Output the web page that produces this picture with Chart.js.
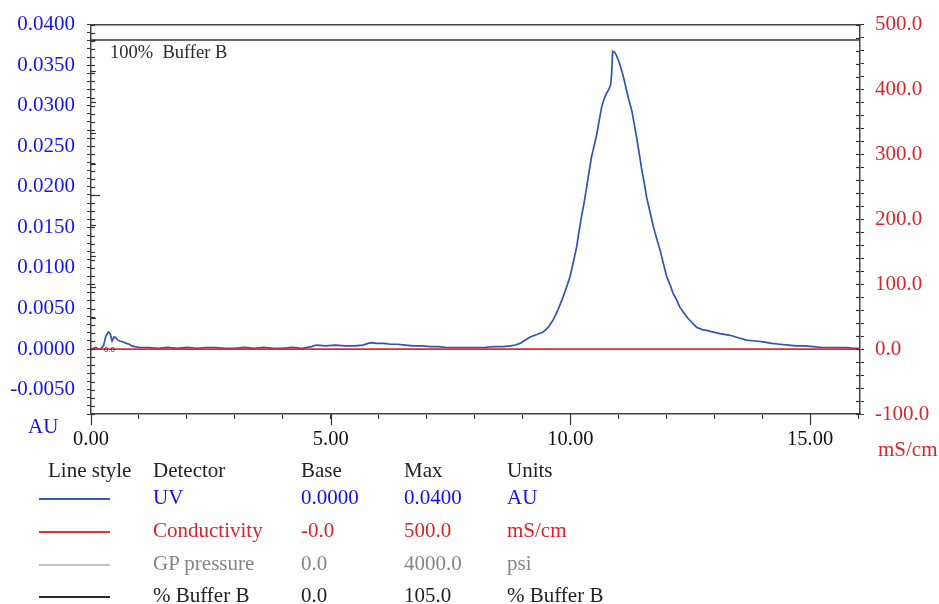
<!DOCTYPE html>
<html>
<head>
<meta charset="utf-8">
<script src="https://cdn.jsdelivr.net/npm/chart.js@4.4.1/dist/chart.umd.min.js"></script>
<style>
  html, body { margin: 0; padding: 0; background: #fff; }
  body { width: 939px; height: 604px; position: relative; overflow: hidden;
         font-family: "Liberation Serif", "Times New Roman", serif; }
  #wrap { position: absolute; left: 0; top: 0; width: 939px; height: 460px; }
  .lbl { position: absolute; white-space: nowrap; line-height: 1; }
  .key { position: absolute; height: 0; border-top: 2px solid; width: 71px; left: 39px; }
</style>
</head>
<body>
<div id="wrap"><canvas id="chroma"></canvas></div>
<div class="lbl" style="left:28px; top:416px; font-size:21px; color:#1414f0;">AU</div>
<div class="lbl" style="left:878px; top:439px; font-size:21px; color:#d8262c;">mS/cm</div>
<div id="legend"></div>

<script>
// UV trace (ml, AU)
const uvTime = [
  0.00, 0.05, 0.10, 0.15, 0.20, 0.26, 0.31, 0.36, 0.40, 0.44, 0.48, 0.52, 0.56, 0.60,
  0.66, 0.74, 0.80, 0.85, 0.92, 1.02, 1.20, 1.40, 1.60, 1.80, 2.00, 2.20, 2.40, 2.60,
  2.80, 3.00, 3.20, 3.40, 3.60, 3.80, 4.00, 4.20, 4.40, 4.60, 4.70, 4.90, 5.10, 5.30,
  5.50, 5.67, 5.78, 5.86, 5.95, 6.10, 6.25, 6.40, 6.55, 6.73, 6.90, 7.07, 7.25, 7.42,
  7.60, 7.80, 8.00, 8.20, 8.40, 8.60, 8.75, 8.85, 8.95, 9.05, 9.16, 9.30, 9.43, 9.54,
  9.64, 9.73, 9.82, 9.90, 9.99, 10.06, 10.13, 10.18, 10.23, 10.29, 10.34, 10.39, 10.44,
  10.50, 10.55, 10.60, 10.65, 10.70, 10.75, 10.80, 10.84, 10.86, 10.88, 10.92, 10.96,
  11.02, 11.07, 11.12, 11.17, 11.22, 11.28, 11.33, 11.38, 11.43, 11.48, 11.54, 11.59,
  11.66, 11.73, 11.80, 11.87, 11.94, 12.01, 12.08, 12.14, 12.22, 12.28, 12.35, 12.45,
  12.56, 12.63, 12.75, 12.84, 12.98, 13.12, 13.33, 13.50, 13.67, 13.85, 14.02, 14.20,
  14.37, 14.55, 14.72, 14.90, 15.06, 15.25, 15.41, 15.60, 15.76, 15.90, 16.04
];
const uvAbs = [
  0.0000, 0.0001, 0.0002, 0.0000, 0.0000, 0.0004, 0.0016, 0.0021, 0.0019, 0.0010, 0.0015, 0.0014, 0.0011, 0.0010,
  0.0009, 0.0007, 0.0006, 0.0004, 0.0003, 0.0002, 0.0002, 0.0001, 0.0002, 0.0001, 0.0002, 0.0001, 0.0002, 0.0002,
  0.0001, 0.0001, 0.0002, 0.0001, 0.0002, 0.0001, 0.0001, 0.0002, 0.0001, 0.0003, 0.0005, 0.0004, 0.0005, 0.0004,
  0.0004, 0.0005, 0.0007, 0.0008, 0.0007, 0.0007, 0.0006, 0.0006, 0.0005, 0.0004, 0.0004, 0.0003, 0.0003, 0.0002,
  0.0002, 0.0002, 0.0002, 0.0002, 0.0003, 0.0003, 0.0004, 0.0005, 0.0007, 0.0011, 0.0015, 0.0018, 0.0021, 0.0027,
  0.0036, 0.0047, 0.0060, 0.0073, 0.0089, 0.0107, 0.0126, 0.0145, 0.0163, 0.0182, 0.0200, 0.0219, 0.0237,
  0.0252, 0.0265, 0.0282, 0.0298, 0.0308, 0.0315, 0.0320, 0.0326, 0.0340, 0.0367, 0.0366, 0.0362,
  0.0353, 0.0343, 0.0332, 0.0319, 0.0307, 0.0294, 0.0278, 0.0261, 0.0243, 0.0224, 0.0205, 0.0187,
  0.0169, 0.0151, 0.0136, 0.0122, 0.0105, 0.0089, 0.0079, 0.0069, 0.0060, 0.0052, 0.0046, 0.0038,
  0.0031, 0.0027, 0.0024, 0.0023, 0.0021, 0.0019, 0.0017, 0.0014, 0.0011, 0.0010, 0.0009, 0.0007,
  0.0006, 0.0005, 0.0004, 0.0004, 0.0003, 0.0002, 0.0002, 0.0002, 0.0002, 0.0001, 0.0001
];

// conductivity (mS/cm) and % buffer B
const condTime = [0.00, 16.04];
const condValue = [0.0, 0.0];
const bufferTime = [0.00, 16.04];
const bufferValue = [100, 100];
const bufferTicks = [10, 20, 30, 40, 50, 60, 70, 80, 90, 100];
const bufferLabel = "100%  Buffer B";

// legend table
const legendHead = ["Line style", "Detector", "Base", "Max", "Units"];
const legendDetector = ["UV", "Conductivity", "GP pressure", "% Buffer B"];
const legendBase = ["0.0000", "-0.0", "0.0", "0.0"];
const legendMax = ["0.0400", "500.0", "4000.0", "105.0"];
const legendUnits = ["AU", "mS/cm", "psi", "% Buffer B"];

const textColors = ["#1010f0", "#d4262c", "#858585", "#222"];
const keyColors = ["#3759b5", "#e5302f", "#c4c4c4", "#2a2a2a"];

const legend = document.getElementById("legend");
const colX = [48, 153, 301, 404, 507];
const rowMid = [471, 498, 531, 564, 596];
function addText(txt, x, mid, color) {
    const d = document.createElement("div");
    d.className = "lbl";
    d.textContent = txt;
    d.style.cssText = `left:${x}px; top:${mid - 11}px; font-size:21px; color:${color};`;
    legend.appendChild(d);
}
legendHead.forEach((h, i) => addText(h, colX[i], rowMid[0], "#222"));
legendDetector.forEach((name, i) => {
    const mid = rowMid[i + 1];
    const k = document.createElement("div");
    k.className = "key";
    k.style.top = mid + "px";
    k.style.borderColor = keyColors[i];
    legend.appendChild(k);
    addText(name, colX[1], mid, textColors[i]);
    addText(legendBase[i], colX[2], mid, textColors[i]);
    addText(legendMax[i], colX[3], mid, textColors[i]);
    addText(legendUnits[i], colX[4], mid, textColors[i]);
});

const toXY = (xs, ys) => xs.map((x, i) => ({ x: x, y: ys[i] }));

const annotations = {
    id: "annotations",
    afterDatasetsDraw(chart) {
        const { ctx, chartArea, scales } = chart;
        const yB = scales.yB;
        ctx.save();
        ctx.strokeStyle = "#333";
        ctx.lineWidth = 1.2;
        const seg = (x1, y1, x2, y2) => {
            ctx.beginPath();
            ctx.moveTo(x1, y1);
            ctx.lineTo(x2, y2);
            ctx.stroke();
        };
        // buffer B ticks inside the left axis
        bufferTicks.forEach((v) => {
            const py = Math.round(yB.getPixelForValue(v)) + 0.5;
            seg(chartArea.left, py, chartArea.left + (v === 50 ? 9 : 5), py);
        });
        // value-axis ticks also poke into the plot
        scales.y.ticks.forEach((t) => {
            const py = Math.round(scales.y.getPixelForValue(t.value)) + 0.5;
            seg(chartArea.left, py, chartArea.left + 4, py);
        });
        scales.y2.ticks.forEach((t) => {
            const py = Math.round(scales.y2.getPixelForValue(t.value)) + 0.5;
            seg(chartArea.right - 4, py, chartArea.right, py);
        });
        // longer major ticks on x
        scales.x.ticks.forEach((t) => {
            if (t.value % 5 === 0) {
                const px = Math.round(scales.x.getPixelForValue(t.value)) + 0.5;
                seg(px, chartArea.bottom, px, chartArea.bottom + 11);
            }
        });
        ctx.fillStyle = "#2a2a2a";
        ctx.textBaseline = "middle";
        ctx.font = "18.5px 'Liberation Serif'";
        ctx.fillText(bufferLabel, chartArea.left + 19, yB.getPixelForValue(100) + 13);
        ctx.font = "8px 'Liberation Sans'";
        ctx.fillText("0.0", scales.x.getPixelForValue(0.27), scales.y.getPixelForValue(0) + 1);
        ctx.restore();
    },
};

Chart.defaults.font.family = "'Liberation Serif', 'Times New Roman', serif";
Chart.defaults.font.size = 21;

new Chart(document.getElementById("chroma"), {
    type: "line",
    data: {
        datasets: [
            {
                label: "Conductivity",
                data: toXY(condTime, condValue),
                yAxisID: "y2",
                borderColor: "#e02b2b",
                borderWidth: 1.6,
                pointRadius: 0,
                order: 0,
            },
            {
                label: "% Buffer B",
                data: toXY(bufferTime, bufferValue),
                yAxisID: "yB",
                borderColor: "#3a3a3a",
                borderWidth: 1.5,
                pointRadius: 0,
                order: 1,
            },
            {
                label: "UV",
                data: toXY(uvTime, uvAbs),
                yAxisID: "y",
                borderColor: "#2f55b0",
                borderWidth: 1.7,
                pointRadius: 0,
                tension: 0,
                order: 2,
            },
        ],
    },
    options: {
        responsive: true,
        maintainAspectRatio: false,
        animation: false,
        layout: { padding: { top: 24 } },
        plugins: { legend: { display: false }, tooltip: { enabled: false } },
        scales: {
            x: {
                type: "linear",
                position: "bottom",
                min: 0,
                max: 16.04,
                ticks: {
                    stepSize: 1,
                    autoSkip: false,
                    maxRotation: 0,
                    includeBounds: false,
                    color: "#111",
                    padding: 8,
                    font: { size: 20.5 },
                    callback: (v) => (v % 5 === 0 ? v.toFixed(2) : ""),
                },
                grid: { drawOnChartArea: false, tickLength: 5, color: "#333" },
                border: { color: "#444", width: 1.5 },
                afterFit: (s) => { s.height = 46; },
            },
            xTop: {
                type: "linear",
                position: "top",
                min: 0,
                max: 16.04,
                ticks: { display: false },
                grid: { display: false },
                border: { color: "#444", width: 1.5 },
                afterFit: (s) => { s.height = 0; },
            },
            y: {
                position: "left",
                min: -0.008,
                max: 0.04,
                ticks: {
                    stepSize: 0.001,
                    autoSkip: false,
                    color: "#1414f0",
                    padding: 12,
                    callback: (v) =>
                        Math.abs(v * 200 - Math.round(v * 200)) < 1e-6 ? v.toFixed(4) : "",
                },
                grid: { drawOnChartArea: false, tickLength: 4, color: "#333" },
                border: { color: "#444", width: 1.5 },
                afterFit: (s) => { s.width = 91; },
            },
            y2: {
                position: "right",
                min: -100,
                max: 500,
                ticks: {
                    stepSize: 20,
                    autoSkip: false,
                    color: "#d8262c",
                    padding: 11,
                    callback: (v) => (v % 100 === 0 ? v.toFixed(1) : ""),
                },
                grid: { drawOnChartArea: false, tickLength: 4, color: "#333" },
                border: { color: "#444", width: 1.5 },
                afterFit: (s) => { s.width = 79; },
            },
            yB: { display: false, min: -21, max: 105 },
        },
    },
    plugins: [annotations],
});
</script>
</body>
</html>
